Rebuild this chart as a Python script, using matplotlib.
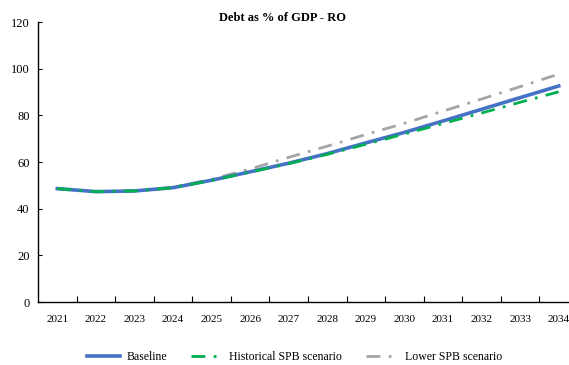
import matplotlib.pyplot as plt
import numpy as np

years = ['2021', '2022', '2023', '2024', '2025', '2026', '2027',
         '2028', '2029', '2030', '2031', '2032', '2033', '2034']
baseline = [48.6, 47.3, 47.6, 49.0, 52.2, 55.8, 59.5, 63.6, 68.2, 72.7, 77.6, 82.6, 87.6, 92.6]
historical = [48.6, 47.3, 47.6, 49.0, 52.1, 55.7, 59.3, 63.3, 67.6, 72.0, 76.5, 81.0, 85.6, 90.1]
lower_spb = [48.6, 47.3, 47.6, 49.1, 52.6, 57.0, 62.0, 66.8, 71.8, 76.6, 81.8, 87.0, 92.3, 97.7]

plt.rcParams['font.family'] = 'Liberation Serif'

fig = plt.figure(figsize=(5.69, 3.65), dpi=100)
ax = fig.add_axes([0.0668, 0.1726, 0.949, 0.767])

x = np.arange(len(years))
ax.plot(x, baseline, color='#4472C4', lw=2.6, label='Baseline', zorder=3)
ax.plot(x, historical, color='#00B050', lw=2.0, dashes=(5, 3, 1, 3),
        label='Historical SPB scenario', zorder=4)
ax.plot(x, lower_spb, color='#A5A5A5', lw=2.0, dashes=(5, 3, 1, 3),
        label='Lower SPB scenario', zorder=2)

ax.set_xlim(-0.5, len(years) - 0.5)
ax.set_ylim(0, 120)
ax.set_yticks(range(0, 121, 20))
ax.set_xticks(x)
ax.set_xticklabels(years)
ax.set_xticks(np.arange(0.5, len(years) - 0.5, 1), minor=True)
ax.tick_params(axis='x', which='major', length=0, labelsize=8, pad=9)
ax.tick_params(axis='x', which='minor', length=4, direction='in', width=0.8)
ax.tick_params(axis='y', length=3, direction='in', width=0.8, labelsize=9, pad=6)

for s in ['top', 'right']:
    ax.spines[s].set_visible(False)
for s in ['left', 'bottom']:
    ax.spines[s].set_linewidth(1.0)

fig.text(0.497, 0.95, 'Debt as % of GDP - RO', ha='center', va='center',
         fontsize=9, fontweight='bold')

fig.legend(loc='center', bbox_to_anchor=(0.518, 0.022), ncol=3, frameon=False,
           fontsize=8.5, handlelength=2.8, columnspacing=2.0, handletextpad=0.5)

fig.savefig('out.png', dpi=100)
